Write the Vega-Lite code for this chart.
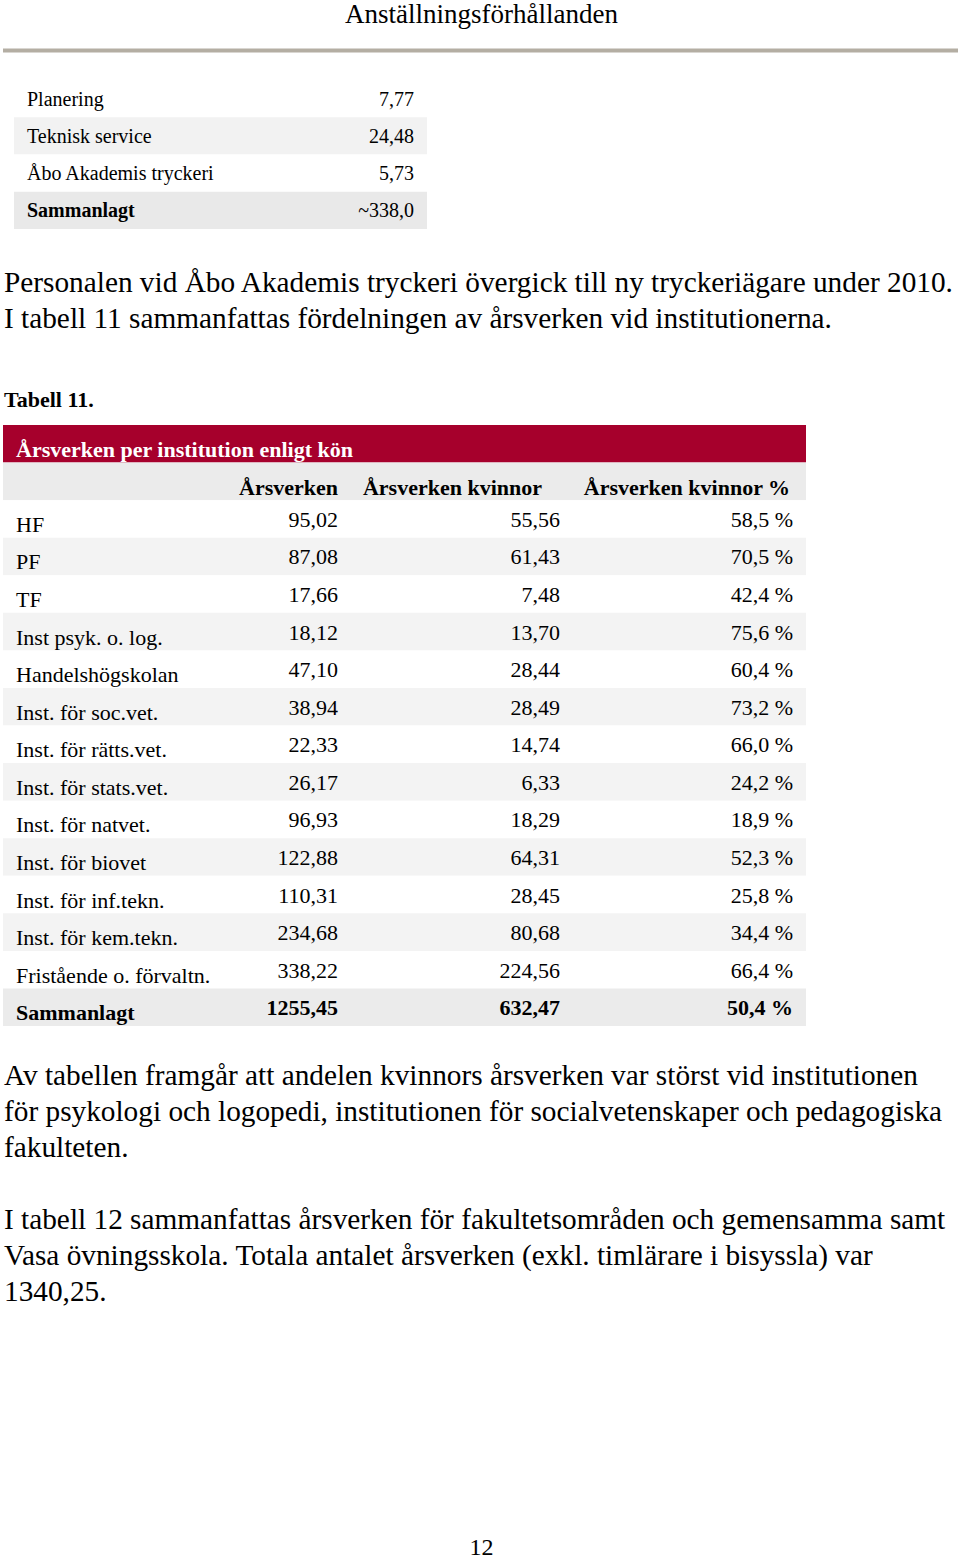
{
  "$schema": "https://vega.github.io/schema/vega-lite/v6.json",
  "padding": {"left": 1, "top": 0, "right": 0, "bottom": 0},
  "background": "white",
  "spacing": 0,
  "bounds": "flush",
  "config": {
    "view": {"stroke": null},
    "text": {"font": "Liberation Serif", "baseline": "alphabetic", "fill": "#000000"}
  },
  "vconcat": [
    {
      "width": 955,
      "height": 79,
      "data": {"values": [{"del": "rubrik", "text": "Anställningsförhållanden"}, {"del": "linje", "text": ""}]},
      "encoding": {
        "y": {"field": "del", "type": "nominal", "axis": null,
              "scale": {"type": "point", "domain": ["rubrik", "linje"], "padding": 0.6127, "align": 0.3218}}
      },
      "layer": [
        {"transform": [{"filter": "datum.del == 'rubrik'"}],
         "mark": {"type": "text", "fontSize": 27, "dy": 8, "dx": 1},
         "encoding": {"text": {"field": "text"}}},
        {"transform": [{"filter": "datum.del == 'linje'"}],
         "mark": {"type": "rule", "color": "#b4aea3", "strokeWidth": 4},
         "encoding": {}}
      ]
    },
    {
      "width": 955,
      "height": 149,
      "data": {"values": [
        {"post": "Planering", "arsverken": 7.77},
        {"post": "Teknisk service", "arsverken": 24.48},
        {"post": "Åbo Akademis tryckeri", "arsverken": 5.73},
        {"post": "Sammanlagt", "arsverken": 338.0}
      ]},
      "transform": [
        {"window": [{"op": "row_number", "as": "nr"}]},
        {"calculate": "datum.post == 'Sammanlagt' ? '~' + replace(format(datum.arsverken, '.1f'), '.', ',') : replace(format(datum.arsverken, '.2f'), '.', ',')", "as": "visning"}
      ],
      "encoding": {
        "y": {"field": "post", "type": "nominal", "sort": null, "axis": null,
              "scale": {"type": "band", "paddingInner": 0, "paddingOuter": 0}}
      },
      "layer": [
        {"mark": {"type": "rect", "x": 11, "x2": 424},
         "encoding": {"fill": {"condition": [
            {"test": "datum.post == 'Sammanlagt'", "value": "#e9e9e9"},
            {"test": "datum.nr % 2 == 0", "value": "#f2f2f2"}], "value": "#ffffff"}}},
        {"mark": {"type": "text", "align": "left", "x": 24, "dy": 7, "fontSize": 20,
                  "fontWeight": {"expr": "datum.post == 'Sammanlagt' ? 'bold' : 'normal'"}},
         "encoding": {"text": {"field": "post"}}},
        {"mark": {"type": "text", "align": "right", "x": 411, "dy": 7, "fontSize": 20},
         "encoding": {"text": {"field": "visning"}}}
      ]
    },
    {
      "width": 955,
      "height": 144,
      "data": {"values": [
        {"rad": 1, "text": "Personalen vid Åbo Akademis tryckeri övergick till ny tryckeriägare under 2010."},
        {"rad": 2, "text": "I tabell 11 sammanfattas fördelningen av årsverken vid institutionerna."}
      ]},
      "mark": {"type": "text", "align": "left", "x": 1, "dy": 7, "fontSize": 29.3},
      "encoding": {
        "y": {"field": "rad", "type": "ordinal", "axis": null,
              "scale": {"type": "band", "paddingInner": 0, "paddingOuter": 1, "align": 0.5278}},
        "text": {"field": "text"}
      }
    },
    {
      "width": 955,
      "height": 52,
      "data": {"values": [{"text": "Tabell 11."}]},
      "mark": {"type": "text", "align": "left", "x": 1, "dy": 7.5, "fontSize": 22, "fontWeight": "bold"},
      "encoding": {"text": {"field": "text"}}
    },
    {
      "width": 803,
      "height": 601,
      "encoding": {
        "y": {"field": "rad", "type": "nominal", "axis": null,
              "scale": {"type": "band", "paddingInner": 0, "paddingOuter": 0,
                        "domain": ["titel", "rubrik", "HF", "PF", "TF", "Inst psyk. o. log.", "Handelshögskolan", "Inst. för soc.vet.", "Inst. för rätts.vet.", "Inst. för stats.vet.", "Inst. för natvet.", "Inst. för biovet", "Inst. för inf.tekn.", "Inst. för kem.tekn.", "Fristående o. förvaltn.", "Sammanlagt"]}}
      },
      "layer": [
        {
          "data": {"values": [{"rad": "titel", "text": "Årsverken per institution enligt kön"}]},
          "layer": [
            {"mark": {"type": "rect", "fill": "#a6002c"}},
            {"mark": {"type": "text", "align": "left", "x": 13, "dy": 13.5, "fontSize": 22, "fontWeight": "bold", "fill": "#ffffff"},
             "encoding": {"text": {"field": "text"}}}
          ]
        },
        {
          "data": {"values": [{"rad": "rubrik", "arsverken": "Årsverken", "kvinnor": "Årsverken kvinnor", "andel": "Årsverken kvinnor %"}]},
          "layer": [
            {"mark": {"type": "rect", "fill": "#ebebeb"}},
            {"mark": {"type": "text", "align": "right", "x": 335, "dy": 13.5, "fontSize": 22, "fontWeight": "bold"},
             "encoding": {"text": {"field": "arsverken"}}},
            {"mark": {"type": "text", "align": "right", "x": 539, "dy": 13.5, "fontSize": 22, "fontWeight": "bold"},
             "encoding": {"text": {"field": "kvinnor"}}},
            {"mark": {"type": "text", "align": "right", "x": 787, "dy": 13.5, "fontSize": 22, "fontWeight": "bold"},
             "encoding": {"text": {"field": "andel"}}}
          ]
        },
        {
          "data": {"values": [
            {"rad": "HF", "arsverken": 95.02, "kvinnor": 55.56, "andel": 58.5},
            {"rad": "PF", "arsverken": 87.08, "kvinnor": 61.43, "andel": 70.5},
            {"rad": "TF", "arsverken": 17.66, "kvinnor": 7.48, "andel": 42.4},
            {"rad": "Inst psyk. o. log.", "arsverken": 18.12, "kvinnor": 13.70, "andel": 75.6},
            {"rad": "Handelshögskolan", "arsverken": 47.10, "kvinnor": 28.44, "andel": 60.4},
            {"rad": "Inst. för soc.vet.", "arsverken": 38.94, "kvinnor": 28.49, "andel": 73.2},
            {"rad": "Inst. för rätts.vet.", "arsverken": 22.33, "kvinnor": 14.74, "andel": 66.0},
            {"rad": "Inst. för stats.vet.", "arsverken": 26.17, "kvinnor": 6.33, "andel": 24.2},
            {"rad": "Inst. för natvet.", "arsverken": 96.93, "kvinnor": 18.29, "andel": 18.9},
            {"rad": "Inst. för biovet", "arsverken": 122.88, "kvinnor": 64.31, "andel": 52.3},
            {"rad": "Inst. för inf.tekn.", "arsverken": 110.31, "kvinnor": 28.45, "andel": 25.8},
            {"rad": "Inst. för kem.tekn.", "arsverken": 234.68, "kvinnor": 80.68, "andel": 34.4},
            {"rad": "Fristående o. förvaltn.", "arsverken": 338.22, "kvinnor": 224.56, "andel": 66.4},
            {"rad": "Sammanlagt", "arsverken": 1255.45, "kvinnor": 632.47, "andel": 50.4}
          ]},
          "transform": [
            {"window": [{"op": "row_number", "as": "nr"}]},
            {"calculate": "replace(format(datum.arsverken, '.2f'), '.', ',')", "as": "arsverken_txt"},
            {"calculate": "replace(format(datum.kvinnor, '.2f'), '.', ',')", "as": "kvinnor_txt"},
            {"calculate": "replace(format(datum.andel, '.1f'), '.', ',') + ' %'", "as": "andel_txt"}
          ],
          "layer": [
            {"mark": {"type": "rect"},
             "encoding": {"fill": {"condition": [
                {"test": "datum.rad == 'Sammanlagt'", "value": "#ebebeb"},
                {"test": "datum.nr % 2 == 0", "value": "#f3f3f3"}], "value": "#ffffff"}}},
            {"mark": {"type": "text", "align": "left", "x": 13, "dy": 13, "fontSize": 22,
                      "fontWeight": {"expr": "datum.rad == 'Sammanlagt' ? 'bold' : 'normal'"}},
             "encoding": {"text": {"field": "rad"}}},
            {"mark": {"type": "text", "align": "right", "x": 335, "dy": 8, "fontSize": 22,
                      "fontWeight": {"expr": "datum.rad == 'Sammanlagt' ? 'bold' : 'normal'"}},
             "encoding": {"text": {"field": "arsverken_txt"}}},
            {"mark": {"type": "text", "align": "right", "x": 557, "dy": 8, "fontSize": 22,
                      "fontWeight": {"expr": "datum.rad == 'Sammanlagt' ? 'bold' : 'normal'"}},
             "encoding": {"text": {"field": "kvinnor_txt"}}},
            {"mark": {"type": "text", "align": "right", "x": 790, "dy": 8, "fontSize": 22,
                      "fontWeight": {"expr": "datum.rad == 'Sammanlagt' ? 'bold' : 'normal'"}},
             "encoding": {"text": {"field": "andel_txt"}}}
          ]
        }
      ]
    },
    {
      "width": 955,
      "height": 512,
      "data": {"values": [
        {"rad": 1, "text": "Av tabellen framgår att andelen kvinnors årsverken var störst vid institutionen"},
        {"rad": 2, "text": "för psykologi och logopedi, institutionen för socialvetenskaper och pedagogiska"},
        {"rad": 3, "text": "fakulteten."},
        {"rad": 5, "text": "I tabell 12 sammanfattas årsverken för fakultetsområden och gemensamma samt"},
        {"rad": 6, "text": "Vasa övningsskola. Totala antalet årsverken (exkl. timlärare i bisyssla) var"},
        {"rad": 7, "text": "1340,25."}
      ]},
      "mark": {"type": "text", "align": "left", "x": 1, "dy": 7, "fontSize": 29.3},
      "encoding": {
        "y": {"field": "rad", "type": "quantitative", "axis": null,
              "scale": {"domain": [-0.4444, 13.7778], "reverse": true, "nice": false, "zero": false}},
        "text": {"field": "text"}
      }
    },
    {
      "width": 955,
      "height": 20,
      "data": {"values": [{"text": "12"}]},
      "mark": {"type": "text", "fontSize": 24, "dy": 7, "dx": 1},
      "encoding": {"text": {"field": "text"}}
    }
  ]
}
